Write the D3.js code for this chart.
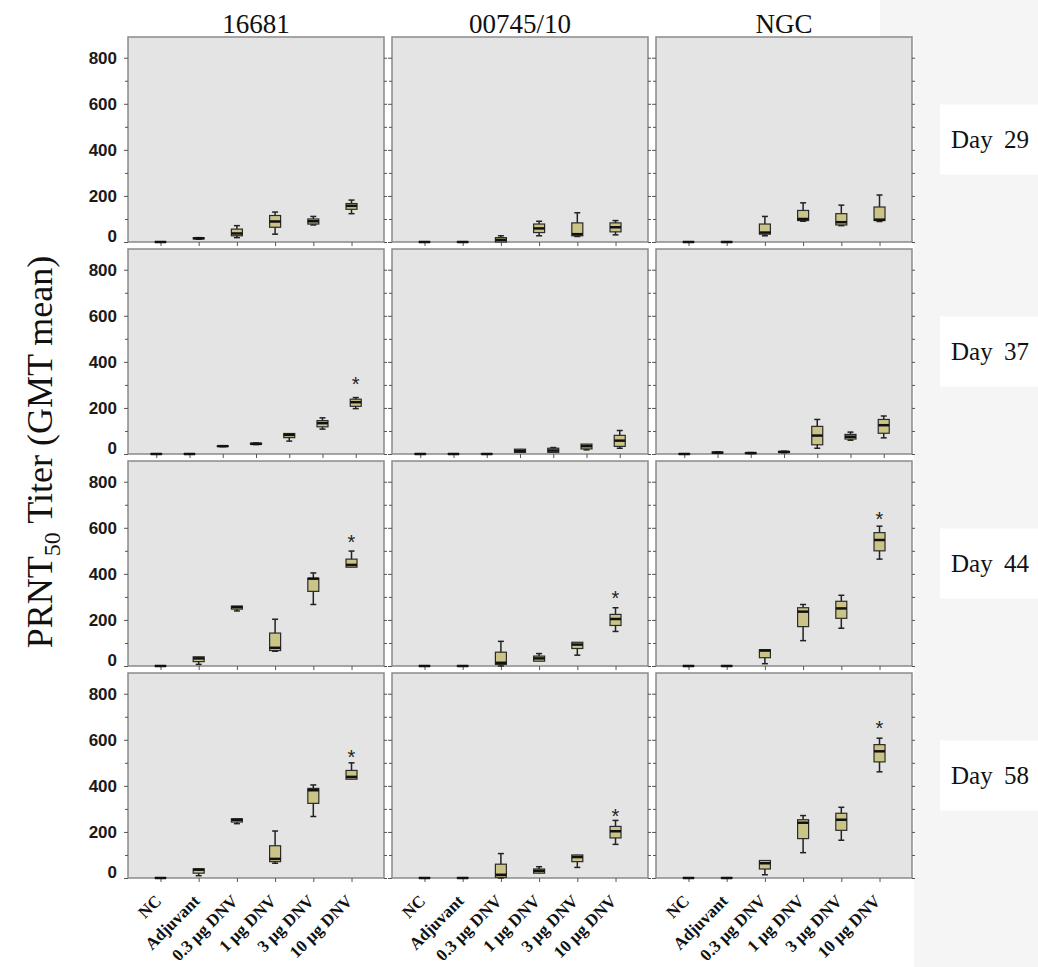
<!DOCTYPE html>
<html>
<head>
<meta charset="utf-8">
<script src="https://d3js.org/d3.v7.min.js"></script>
<style>
body { margin: 0; background: #fff; }
.axis path { display: none; }
.axis line { stroke: #555; stroke-width: 1; }
.ytick text { font-family: "Liberation Sans Narrow", "Arial Narrow", "Liberation Sans", sans-serif; font-weight: bold; font-size: 17px; fill: #1a1a1a; }
.title { font-family: "Liberation Serif", serif; font-size: 27px; fill: #111; }
.daylabel { font-family: "Liberation Serif", serif; font-size: 25px; fill: #111; word-spacing: 5px; }
.xlabel { font-family: "Liberation Serif", serif; font-weight: bold; font-size: 17px; fill: #111; }
.ylabel { font-family: "Liberation Serif", serif; font-size: 36px; fill: #111; }
</style>
</head>
<body>
<div id="graph"></div>
<script>
// Panel labels
var strains = ["16681", "00745/10", "NGC"];
var days = ["Day 29", "Day 37", "Day 44", "Day 58"];
var groups = ["NC", "Adjuvant", "0.3 µg DNV", "1 µg DNV", "3 µg DNV", "10 µg DNV"];
var yTicks = [0, 200, 400, 600, 800];
var yMinor = [100, 300, 500, 700];

// box stats per group: [low whisker, q1, median, q3, high whisker]
var d29_16681 = [[0,0,0,1,1],[12,14,16,18,19],[19,27,37,56,71],[34,64,89,115,130],[74,78,90,100,111],[123,142,157,167,182]];
var d29_00745 = [[0,0,0,1,1],[0,0,0,1,1],[0,0,9,19,27],[27,41,59,78,90],[24,27,34,83,127],[31,44,64,83,93]];
var d29_NGC   = [[0,0,0,1,1],[0,0,0,1,1],[27,34,41,78,111],[90,93,100,137,170],[71,74,86,123,160],[89,93,97,152,204]];

// day 37 has seven groups in every panel
var d37_16681 = [[0,0,0,1,1],[0,0,0,1,1],[32,33,34,35,36],[41,42,44,47,48],[56,71,83,89,89],[108,118,134,145,157],[197,207,225,238,245]];
var d37_00745 = [[0,0,0,1,1],[0,0,0,1,1],[0,0,0,1,1],[7,7,13,21,21],[7,7,15,25,28],[18,22,34,43,43],[25,33,58,81,102]];
var d37_NGC   = [[0,0,0,1,1],[4,5,6,8,9],[2,3,4,5,6],[6,7,9,11,12],[25,40,80,120,150],[60,65,75,85,95],[70,90,125,150,165]];

var d44_16681 = [[0,0,0,1,1],[7,19,33,40,40],[239,247,256,260,260],[64,67,79,143,203],[267,324,379,381,404],[429,429,439,464,499]];
var d44_00745 = [[0,0,0,1,1],[0,0,0,1,1],[0,7,14,60,107],[21,21,33,43,54],[47,76,93,103,103],[150,176,204,224,253]];
var d44_NGC   = [[0,0,0,1,1],[0,0,0,1,1],[10,36,67,71,71],[110,171,236,253,267],[164,207,250,281,307],[464,500,547,579,607]];

var d58_16681 = [[0,0,0,1,1],[10,21,36,40,40],[236,243,253,257,257],[64,71,83,140,204],[267,324,381,389,404],[429,429,439,467,500]];
var d58_00745 = [[0,0,0,1,1],[0,0,0,1,1],[0,3,14,60,106],[21,21,31,39,49],[46,71,91,100,100],[146,174,203,224,250]];
var d58_NGC   = [[0,0,0,1,1],[0,0,0,1,1],[14,39,64,76,76],[110,171,240,253,271],[164,207,253,281,307],[461,504,550,579,607]];

// outliers (asterisks): [group index, value]
var o37_16681 = [[6, 322]];
var o44_16681 = [[5, 557]], o44_00745 = [[5, 314]], o44_NGC = [[5, 660]];
var o58_16681 = [[5, 547]], o58_00745 = [[5, 289]], o58_NGC = [[5, 671]];

var boxData = [
    [d29_16681, d29_00745, d29_NGC],
    [d37_16681, d37_00745, d37_NGC],
    [d44_16681, d44_00745, d44_NGC],
    [d58_16681, d58_00745, d58_NGC]
];
var outData = [
    [[], [], []],
    [o37_16681, [], []],
    [o44_16681, o44_00745, o44_NGC],
    [o58_16681, o58_00745, o58_NGC]
];

// Layout
var padL = 128, padT = 37,
    colW = 256, colGap = 8,
    rowH = 205, rowGap = 7,
    boxW = 11;

var svg = d3.select("#graph")
    .append("svg")
        .attr("width", 1038)
        .attr("height", 967);

// faint grey strip on the right, white behind the day labels
svg.append("rect").attr("x", 880).attr("y", 0).attr("width", 158).attr("height", 37).style("fill", "#f5f5f5");
svg.append("rect").attr("x", 914).attr("y", 37).attr("width", 124).attr("height", 930).style("fill", "#f5f5f5");

// Set the y range (shared)
var y = d3.scaleLinear().domain([0, 890]).range([rowH, 0]);

boxData.forEach(function(row, r) {
    row.forEach(function(stats, c) {
        var px = padL + c * (colW + colGap),
            py = padT + r * (rowH + rowGap);

        var x = d3.scalePoint()
            .domain(d3.range(stats.length))
            .range([0, colW])
            .padding(0.85);

        var g = svg.append("g")
            .attr("transform", "translate(" + px + "," + py + ")");

        // panel background
        g.append("rect")
            .attr("width", colW)
            .attr("height", rowH)
            .style("fill", "#e4e4e4")
            .style("stroke", "#8a8a8a")
            .style("stroke-width", 1.5);

        // Add the Y Axis (left, labels only on first column)
        var yl = g.append("g")
            .attr("class", "axis ytick")
            .call(d3.axisLeft(y).tickValues(yTicks).tickSize(4).tickPadding(7)
                .tickFormat(c === 0 ? d3.format("d") : ""));
        yl.selectAll("text")
            .attr("dy", function(d) { return d === 0 ? "-0.05em" : "0.32em"; });

        g.append("g")
            .attr("class", "axis")
            .call(d3.axisLeft(y).tickValues(yMinor).tickSize(3).tickFormat(""));

        // right side ticks
        g.append("g")
            .attr("class", "axis")
            .attr("transform", "translate(" + colW + ",0)")
            .call(d3.axisRight(y).tickValues(yTicks.concat(yMinor)).tickSize(3).tickFormat(""));

        // Add the X Axis
        g.append("g")
            .attr("class", "axis")
            .attr("transform", "translate(0," + rowH + ")")
            .call(d3.axisBottom(x).tickSize(4).tickFormat(""));

        var box = g.selectAll(".box")
            .data(stats)
            .enter()
            .append("g")
            .attr("class", "box")
            .attr("transform", function(d, i) { return "translate(" + x(i) + ",0)"; });

        // whiskers
        box.append("line")
            .attr("y1", function(d) { return y(d[0]); })
            .attr("y2", function(d) { return y(d[4]); })
            .style("stroke", "#222")
            .style("stroke-width", 1.5);

        box.filter(function(d) { return d[4] > d[3]; })
            .append("line")
            .attr("x1", -3).attr("x2", 3)
            .attr("y1", function(d) { return y(d[4]); })
            .attr("y2", function(d) { return y(d[4]); })
            .style("stroke", "#222")
            .style("stroke-width", 1.5);

        box.filter(function(d) { return d[0] < d[1]; })
            .append("line")
            .attr("x1", -3).attr("x2", 3)
            .attr("y1", function(d) { return y(d[0]); })
            .attr("y2", function(d) { return y(d[0]); })
            .style("stroke", "#222")
            .style("stroke-width", 1.5);

        box.append("rect")
            .attr("x", -boxW / 2)
            .attr("width", boxW)
            .attr("y", function(d) { return y(d[3]); })
            .attr("height", function(d) { return y(d[1]) - y(d[3]); })
            .style("fill", "#cbc487")
            .style("stroke", "#2b2b2b")
            .style("stroke-width", 1.2);

        box.append("line")
            .attr("x1", -boxW / 2).attr("x2", boxW / 2)
            .attr("y1", function(d) { return y(d[2]); })
            .attr("y2", function(d) { return y(d[2]); })
            .style("stroke", "#111")
            .style("stroke-width", 2.5);

        // outliers
        g.selectAll(".star")
            .data(outData[r][c])
            .enter()
            .append("text")
            .attr("class", "star")
            .attr("x", function(d) { return x(d[0]); })
            .attr("y", function(d) { return y(d[1]); })
            .attr("dy", "0.58em")
            .attr("text-anchor", "middle")
            .style("font-family", "Liberation Sans, sans-serif")
            .style("font-size", "20px")
            .style("fill", "#222")
            .text("*");

        // x labels on the last row
        if (r === boxData.length - 1) {
            g.selectAll(".xlabel")
                .data(groups)
                .enter()
                .append("text")
                .attr("class", "xlabel")
                .attr("text-anchor", "end")
                .attr("transform", function(d, i) {
                    return "translate(" + (x(i) + 2) + "," + (rowH + 24) + ") rotate(-45)";
                })
                .text(function(d) { return d; });
        }

        // column titles
        if (r === 0) {
            svg.append("text")
                .attr("class", "title")
                .attr("text-anchor", "middle")
                .attr("x", px + colW / 2)
                .attr("y", 33)
                .text(strains[c]);
        }
    });

    // day labels
    var cy = padT + r * (rowH + rowGap) + rowH / 2;
    svg.append("rect")
        .attr("x", 940).attr("y", cy - 35)
        .attr("width", 98).attr("height", 70)
        .style("fill", "#fff");
    svg.append("text")
        .attr("class", "daylabel")
        .attr("x", 951)
        .attr("y", cy + 8)
        .text(days[r]);
});

// y axis title
var yt = svg.append("text")
    .attr("class", "ylabel")
    .attr("text-anchor", "middle")
    .attr("transform", "translate(52,452) rotate(-90)");
yt.append("tspan").text("PRNT");
yt.append("tspan").attr("dy", 8).style("font-size", "24px").text("50");
yt.append("tspan").attr("dy", -8).text(" Titer (GMT mean)");
</script>
</body>
</html>
